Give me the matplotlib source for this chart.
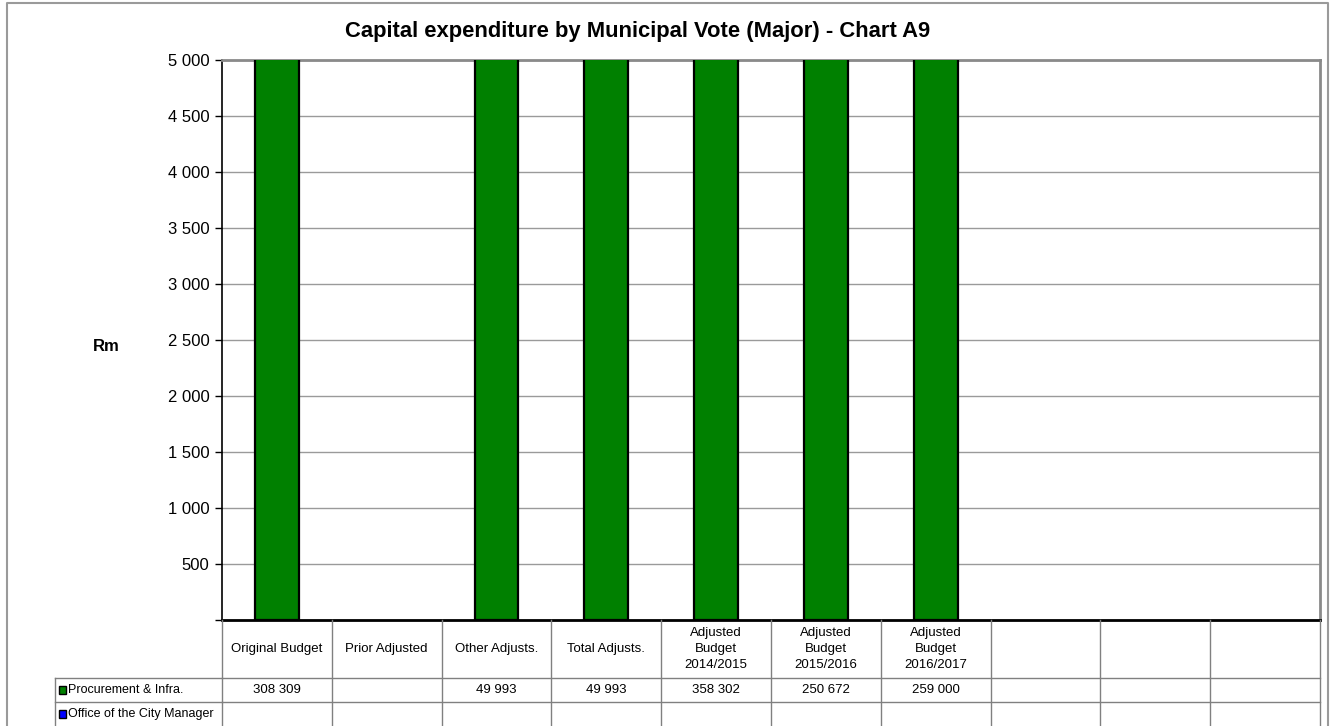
import numpy as np
import matplotlib
matplotlib.use("Agg")
import matplotlib.pyplot as plt
from matplotlib.lines import Line2D
from matplotlib.patches import Rectangle
from matplotlib.transforms import Affine2D, blended_transform_factory
from matplotlib.ticker import FuncFormatter, MultipleLocator

plt.rcParams['font.family'] = ['Liberation Sans', 'DejaVu Sans']

# ---- data (R thousands) ----
categories = ['Original Budget', 'Prior Adjusted', 'Other Adjusts.', 'Total Adjusts.',
              'Adjusted\nBudget\n2014/2015', 'Adjusted\nBudget\n2015/2016',
              'Adjusted\nBudget\n2016/2017', '', '', '']
procurement = [308309, np.nan, 49993, 49993, 358302, 250672, 259000, np.nan, np.nan, np.nan]
city_manager = [np.nan] * 10
series_names = ['Procurement & Infra.', 'Office of the City Manager']
series_colors = ['#008000', '#0000FF']
title = 'Capital expenditure by Municipal Vote (Major) - Chart A9'
y_max = 5000
y_step = 500

tsize = 9.5


def fmt(v):
    return f'{v:,.0f}'.replace(',', ' ')


W, H = 1335, 726
fig = plt.figure(figsize=(W / 100, H / 100), dpi=100)
# pixel coords (origin top-left) -> figure
px = Affine2D().scale(1 / W, -1 / H).translate(0, 1) + fig.transFigure

ax_l, ax_r, ax_t, ax_b = 222, 1320, 60, 620
ax = fig.add_axes([ax_l / W, 1 - ax_b / H, (ax_r - ax_l) / W, (ax_b - ax_t) / H])

x = np.arange(len(categories))
for vals, col in zip([procurement, city_manager], series_colors):
    ax.bar(x, np.array(vals, dtype=float), width=0.4, color=col, edgecolor='black',
           linewidth=1.6, zorder=3)

ax.set_xlim(-0.5, len(categories) - 0.5)
ax.set_ylim(0, y_max)
ax.yaxis.set_major_locator(MultipleLocator(y_step))
ax.yaxis.set_major_formatter(FuncFormatter(lambda v, p: '' if v == 0 else fmt(v)))
ax.tick_params(axis='y', direction='out', length=5, width=1, labelsize=12, pad=4)
ax.set_xticks([])
ax.yaxis.grid(True, color='#9a9a9a', linewidth=1, zorder=0)
ax.set_axisbelow(True)
for s in ['top', 'right']:
    ax.spines[s].set_color('#8a8a8a')
    ax.spines[s].set_linewidth(2)
ax.spines['left'].set_color('black')
ax.spines['left'].set_linewidth(1.2)
ax.spines['bottom'].set_color('black')
ax.spines['bottom'].set_linewidth(2)

fig.text(638 / W, 1 - 31 / H, title, ha='center', va='center', fontsize=15.8, fontweight='bold')
fig.text(106 / W, 1 - 346 / H, 'Rm', ha='center', va='center', fontsize=12, fontweight='bold')

# outer chart border
fig.add_artist(Line2D([7, 7, 1328, 1328], [H + 5, 3, 3, H + 5], transform=px,
                      color='#9a9a9a', linewidth=1.5))

# ---- data table under the plot ----
tx = blended_transform_factory(ax.transData, px)
row_head, row1, row2, row_end = 620, 678, 702, 730
edges = np.arange(len(categories) + 1) - 0.5
grid_col = '#808080'
for e in edges:
    fig.add_artist(Line2D([e, e], [row_head, row_end], transform=tx, color=grid_col, linewidth=1))
for yy in (row1, row2):
    fig.add_artist(Line2D([55, 222], [yy, yy], transform=px, color=grid_col, linewidth=1))
    fig.add_artist(Line2D([edges[0], edges[-1]], [yy, yy], transform=tx, color=grid_col, linewidth=1))
fig.add_artist(Line2D([55, 55], [row1, row_end], transform=px, color=grid_col, linewidth=1))

for i, c in enumerate(categories):
    fig.text(i, (row_head + row1) / 2, c, transform=tx, ha='center', va='center',
             fontsize=tsize, linespacing=1.4)

for r, (name, col, vals) in enumerate(zip(series_names, series_colors,
                                          [procurement, city_manager])):
    yc = (row1 + row2) / 2 + r * (row2 - row1)
    fig.add_artist(Rectangle((59, yc - 4), 7, 8, transform=px, facecolor=col,
                             edgecolor='black', linewidth=1))
    fig.text(68, yc, name, transform=px, ha='left', va='center', fontsize=9)
    for i, v in enumerate(vals):
        if not np.isnan(v):
            fig.text(i, yc, fmt(v), transform=tx, ha='center', va='center', fontsize=tsize)

fig.savefig('out.png', dpi=100)
